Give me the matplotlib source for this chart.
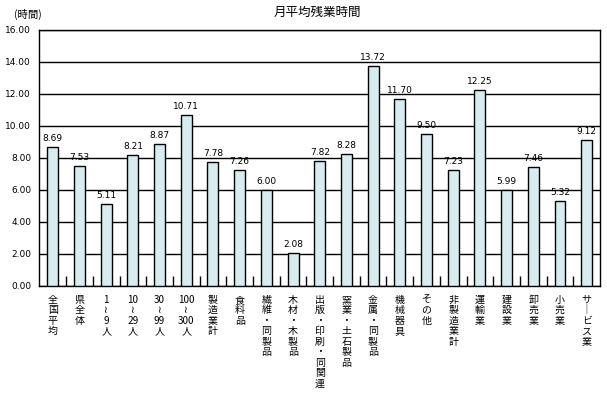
import matplotlib
matplotlib.use("Agg")
import numpy as np
import matplotlib.pyplot as plt

plt.rcParams["font.family"] = ["Noto Sans CJK JP", "DejaVu Sans"]

CATEGORIES = [
    "全国平均", "県全体", "1～9人", "10～29人", "30～99人", "100～300人",
    "製造業計", "食料品", "繊維・同製品", "木材・木製品", "出版・印刷・同関連",
    "窯業・土石製品", "金属・同製品", "機械器具", "その他", "非製造業計",
    "運輸業", "建設業", "卸売業", "小売業", "サービス業",
]
HOURS = [8.69, 7.53, 5.11, 8.21, 8.87, 10.71, 7.78, 7.26, 6.00, 2.08, 7.82,
         8.28, 13.72, 11.70, 9.50, 7.23, 12.25, 5.99, 7.46, 5.32, 9.12]
Y_TICKS = [0, 2, 4, 6, 8, 10, 12, 14, 16]
TITLE = "月平均残業時間"
UNIT = "(時間)"

BAR_COLOR = "#d6ecf0"


def vertical_label(text):
    # stack characters top to bottom, digits stay together on one line
    lines = []
    buf = ""
    for ch in text:
        if ch.isdigit() and ch.isascii():
            buf += ch
            continue
        if buf:
            lines.append(buf)
            buf = ""
        if ch == "～":
            ch = "≀"
        elif ch == "ー":
            ch = "｜"
        lines.append(ch)
    if buf:
        lines.append(buf)
    return "\n".join(lines)


fig = plt.figure(figsize=(6.07, 3.93), dpi=100)
ax = fig.add_axes([0.065, 0.2723, 0.9235, 0.6514])

x = np.arange(len(CATEGORIES))
ax.bar(x, HOURS, width=0.41, color=BAR_COLOR, edgecolor="black", linewidth=1.0, zorder=3)

for xi, v in zip(x, HOURS):
    ax.text(xi, v + 0.25, f"{v:.2f}", ha="center", va="bottom", fontsize=6.5,
            family="DejaVu Sans", zorder=4)

ax.set_xlim(-0.5, len(CATEGORIES) - 0.5)
ax.set_ylim(0, 16)
ax.set_yticks(Y_TICKS)
ax.set_yticklabels([f"{t:.2f}" for t in Y_TICKS], fontsize=6.5, family="DejaVu Sans")
ax.tick_params(axis="y", length=0, pad=6)
ax.yaxis.grid(True, color="black", linewidth=1.0, zorder=0)

# category boundary ticks pointing inward
ax.set_xticks(np.arange(0.5, len(CATEGORIES) - 0.5, 1.0))
ax.set_xticklabels([])
ax.tick_params(axis="x", direction="in", length=7, width=1.0, color="black")

for xi, name in zip(x, CATEGORIES):
    ax.text(xi, -0.55, vertical_label(name), ha="center", va="top", fontsize=7.2,
            linespacing=1.06, transform=ax.transData)

for sp in ax.spines.values():
    sp.set_linewidth(1.0)
    sp.set_color("black")

fig.text(0.522, 0.968, TITLE, ha="center", va="center", fontsize=9)
fig.text(0.023, 0.962, UNIT, ha="left", va="center", fontsize=7.5)

fig.savefig("out.png", dpi=100)
